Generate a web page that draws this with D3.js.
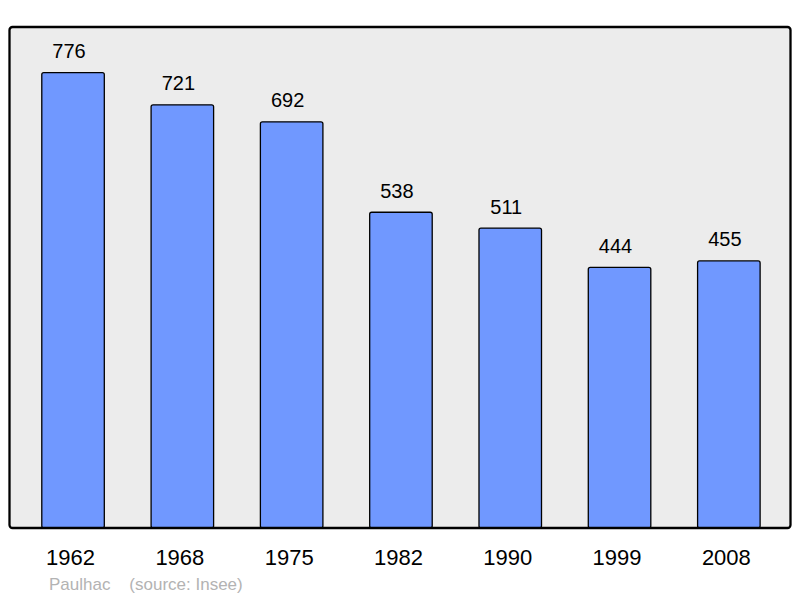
<!DOCTYPE html>
<html><head><meta charset="utf-8">
<script src="https://cdn.jsdelivr.net/npm/d3@7"></script>
<style>body{margin:0;background:#fff}svg{display:block}text{font-family:"Liberation Sans",Arial,sans-serif}</style>
</head><body>
<svg id="c" width="800" height="598"></svg>
<script>
const years = ["1962","1968","1975","1982","1990","1999","2008"];
const population = [776,721,692,538,511,444,455];
const commune = "Paulhac";
const source = "(source: Insee)";

const svg = d3.select("#c");
const frame = {x:9.5, y:27, w:781, h:501};
svg.append("rect").attr("x",frame.x).attr("y",frame.y).attr("width",frame.w).attr("height",frame.h)
  .attr("rx",3).attr("fill","#ececec");

const x = d3.scaleBand().domain(years).range([18.4,783.5]).paddingInner(0.428).paddingOuter(0.214);
const y = d3.scaleLinear().domain([0,853.6]).range([528,27]);

const g = svg.append("g");
g.selectAll("rect.bar").data(years).join("rect").attr("class","bar")
  .attr("x",d=>x(d)).attr("width",x.bandwidth())
  .attr("y",(d,i)=>y(population[i])).attr("height",(d,i)=>y(0)-y(population[i]))
  .attr("rx",2).attr("fill","#7098ff").attr("stroke","#000").attr("stroke-width",1.3);

g.selectAll("text.val").data(years).join("text").attr("class","val")
  .attr("x",d=>x(d)+x.bandwidth()/2-4).attr("y",(d,i)=>y(population[i])-14.5)
  .attr("text-anchor","middle").attr("font-size","20px").attr("fill","#000")
  .text((d,i)=>population[i]);

svg.append("rect").attr("x",frame.x).attr("y",frame.y).attr("width",frame.w).attr("height",frame.h)
  .attr("rx",3).attr("fill","none").attr("stroke","#000").attr("stroke-width",2.3);

const xAxis = d3.axisBottom(x).tickSize(0).tickPadding(0);
const ax = svg.append("g").attr("transform","translate(-2.5,565)").call(xAxis);
ax.select(".domain").remove();
ax.selectAll("text").attr("dy",0).attr("font-size","22px").attr("fill","#000")
  .style("font-family","'Liberation Sans',Arial,sans-serif");

svg.append("text").attr("x",49).attr("y",590).attr("font-size","17px").attr("fill","#b3b3b3")
  .style("white-space","pre").text(commune + "    " + source);
</script>
</body></html>
